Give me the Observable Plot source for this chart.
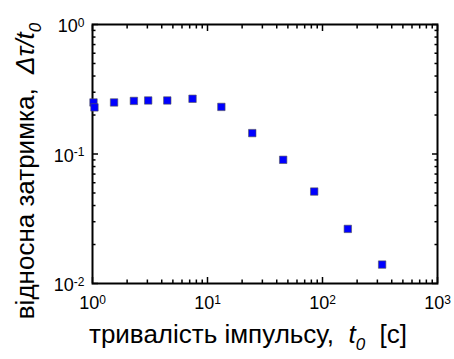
<!DOCTYPE html>
<html><head><meta charset="utf-8">
<script src="https://cdn.jsdelivr.net/npm/d3@7"></script>
<script src="https://cdn.jsdelivr.net/npm/@observablehq/plot@0.6"></script>
<style>body{margin:0;background:#fff} svg{display:block}</style>
</head><body><div id="chart"></div>
<script>
// data
const tPulse   = [1.02, 1.04, 1.54, 2.29, 3.05, 4.47, 7.41, 13.2, 24.5, 45.5, 84.7, 166, 330];
const relDelay = [0.25, 0.229, 0.25, 0.257, 0.259, 0.259, 0.267, 0.231, 0.145, 0.0902, 0.0513, 0.0264, 0.014];

const xMajorTicks = [1, 10, 100, 1000];
const xTickLabels = ["10^0", "10^1", "10^2", "10^3"];
const yMajorTicks = [0.01, 0.1, 1];
const yTickLabels = ["10^-2", "10^-1", "10^0"];
const xMinorTicks = [2,3,4,5,6,7,8,9, 20,30,40,50,60,70,80,90, 200,300,400,500,600,700,800,900];
const yMinorTicks = [0.02,0.03,0.04,0.05,0.06,0.07,0.08,0.09, 0.2,0.3,0.4,0.5,0.6,0.7,0.8,0.9];

const xTitleMain = "тривалість імпульсу,\u00a0\u00a0";
const xTitleVar = "t";
const xTitleSub = "0";
const xTitleUnit = "\u00a0\u00a0[с]";
const yTitleMain = "відносна затримка,\u00a0\u00a0";
const yTitleVar = "Δτ/t";
const yTitleSub = "0";

const data = tPulse.map((t, i) => ({t, d: relDelay[i]}));

const W = 454, H = 359;
const ML = 92, MR = 17, MT = 24, MB = 76;

const chart = Plot.plot({
  width: W, height: H,
  marginLeft: ML, marginRight: MR, marginTop: MT, marginBottom: MB,
  style: {fontFamily: "'Liberation Sans', Arial, sans-serif", fontSize: "18px", color: "#000", background: "#fff"},
  x: {type: "log", domain: [1, 1000]},
  y: {type: "log", domain: [0.01, 1]},
  marks: [
    Plot.axisX(xMajorTicks, {anchor: "bottom", tickSize: 0, tickPadding: 13, label: null,
      tickFormat: d => xTickLabels[xMajorTicks.indexOf(d)]}),
    Plot.axisY(yMajorTicks, {anchor: "left", tickSize: 0, tickPadding: 8, dy: 2, label: null,
      tickFormat: d => yTickLabels[yMajorTicks.indexOf(d)]}),
    Plot.axisX(xMajorTicks, {anchor: "bottom", tickSize: -6, fill: "none", label: null, strokeWidth: 1.5}),
    Plot.axisX(xMajorTicks, {anchor: "top", tickSize: -6, fill: "none", label: null, strokeWidth: 1.5}),
    Plot.axisX(xMinorTicks, {anchor: "bottom", tickSize: -3.5, fill: "none", label: null, strokeWidth: 1.5}),
    Plot.axisX(xMinorTicks, {anchor: "top", tickSize: -3.5, fill: "none", label: null, strokeWidth: 1.5}),
    Plot.axisY(yMajorTicks, {anchor: "left", tickSize: -6, fill: "none", label: null, strokeWidth: 1.5}),
    Plot.axisY(yMajorTicks, {anchor: "right", tickSize: -6, fill: "none", label: null, strokeWidth: 1.5}),
    Plot.axisY(yMinorTicks, {anchor: "left", tickSize: -3.5, fill: "none", label: null, strokeWidth: 1.5}),
    Plot.axisY(yMinorTicks, {anchor: "right", tickSize: -3.5, fill: "none", label: null, strokeWidth: 1.5}),
    Plot.frame({stroke: "#000", strokeWidth: 2}),
    Plot.dot(data, {x: "t", y: "d", symbol: "square", r: 4.2, fill: "#0000ff", stroke: "#555", strokeWidth: 0.6})
  ]
});

const svg = d3.select(chart);
svg.selectAll("text").each(function () {
  const s = this.textContent;
  if (!s.includes("^")) return;
  const [b, e] = s.split("^");
  const el = d3.select(this);
  el.text(null);
  el.append("tspan").text(b);
  el.append("tspan").attr("dy", "-0.45em").attr("font-size", "12px").text(e);
});

// axis titles with italic / subscript parts
const xt = svg.append("text")
  .attr("x", 248).attr("y", 343)
  .attr("text-anchor", "middle")
  .attr("font-family", "'Liberation Sans', Arial, sans-serif")
  .attr("font-size", 26).attr("fill", "#000");
xt.append("tspan").text(xTitleMain);
xt.append("tspan").attr("font-style", "italic").text(xTitleVar);
xt.append("tspan").attr("font-style", "italic").attr("font-size", 17).attr("dy", 7).text(xTitleSub);
xt.append("tspan").attr("dy", -7).text(xTitleUnit);

const yt = svg.append("text")
  .attr("transform", "translate(34,171) rotate(-90)")
  .attr("text-anchor", "middle")
  .attr("font-family", "'Liberation Sans', Arial, sans-serif")
  .attr("font-size", 26).attr("fill", "#000");
yt.append("tspan").text(yTitleMain);
yt.append("tspan").attr("font-style", "italic").text(yTitleVar);
yt.append("tspan").attr("font-style", "italic").attr("font-size", 17).attr("dy", 7).text(yTitleSub);

document.getElementById("chart").append(chart);
</script>
</body></html>
